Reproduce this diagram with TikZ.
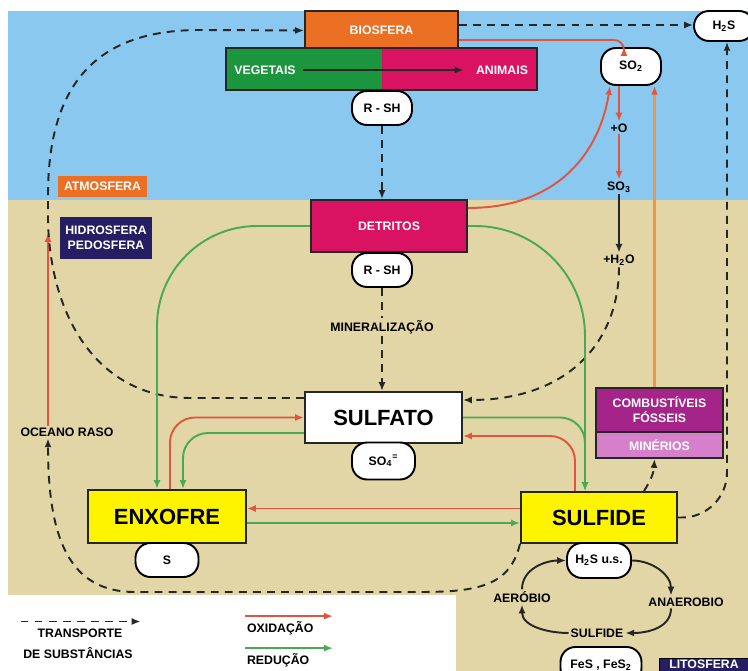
\documentclass[tikz,border=0pt]{standalone}
\usepackage{fontspec}
\setmainfont{Liberation Sans}
\usetikzlibrary{arrows.meta}

\definecolor{sky}{RGB}{138,200,240}
\definecolor{soil}{RGB}{226,214,166}
\definecolor{bioorange}{RGB}{236,112,36}
\definecolor{leafgreen}{RGB}{28,150,62}
\definecolor{rosered}{RGB}{218,18,98}
\definecolor{navy}{RGB}{38,30,98}
\definecolor{boxyellow}{RGB}{255,244,0}
\definecolor{fossil}{RGB}{164,36,138}
\definecolor{orepink}{RGB}{214,128,204}
\definecolor{oxred}{RGB}{226,84,62}
\definecolor{redgreen}{RGB}{72,170,82}
\definecolor{fuelorange}{RGB}{236,150,80}

\begin{document}
\begin{tikzpicture}[x=0.2mm,y=-0.2mm,
  box/.style={draw=black!85,line width=1.2pt,font=\fontsize{12.5}{14}\selectfont\bfseries},
  sbox/.style={draw=black!85,line width=1.2pt,text=white,inner sep=1pt,font=\fontsize{7}{8.5}\selectfont\bfseries},
  tag/.style={text=white,inner sep=1pt,font=\fontsize{7}{8.5}\selectfont\bfseries},
  pill/.style={draw,fill=white,line width=1.1pt,rounded corners=0.3cm,minimum width=1.2cm,minimum height=0.68cm,inner sep=1pt,font=\fontsize{7}{8}\selectfont\bfseries},
  lab/.style={inner sep=1pt,font=\fontsize{7}{8}\selectfont\bfseries},
  transp/.style={black!85,line width=1.1pt,dash pattern=on 4.5pt off 3.5pt,-{Latex[length=5pt,width=4pt]}},
  oxid/.style={oxred,line width=1.1pt,-{Latex[length=5pt,width=4pt]}},
  reduc/.style={redgreen,line width=1.1pt,-{Latex[length=5pt,width=4pt]}},
  fuel/.style={fuelorange,line width=1.3pt,-{Latex[length=5pt,width=4pt,color=oxred]}},
  cyc/.style={black!85,line width=1.1pt,-{Latex[length=5pt,width=4pt]}}]

\fill [white] (0,0) rectangle (748,671);
\fill [sky] (8,11) rectangle (748,200);
\fill [soil] (8,200) rectangle (748,671);
\fill [white] (8,595) rectangle (456,671);
\useasboundingbox (0,0) rectangle (748,671);

\node [sbox,fill=bioorange,minimum width=3.06cm,minimum height=0.78cm] (biosfera) at (381.5,30.5) {BIOSFERA};
\node [fill=leafgreen,minimum width=3.12cm,minimum height=0.84cm,inner sep=0pt] (vegbar) at (304,69) {};
\node [fill=rosered,minimum width=3.1cm,minimum height=0.84cm,inner sep=0pt] (anibar) at (459.5,69) {};
\draw [black!85,line width=1.2pt] (vegbar.north west) rectangle (anibar.south east);
\node [tag] (veg) at (265,70) {VEGETAIS};
\node [tag] (ani) at (502,70) {ANIMAIS};
\draw [black!85,line width=1.2pt,-{Latex[length=5pt,width=4pt]},shorten <=3pt,shorten >=6pt] (veg) -- (ani);

\node [pill] (rsh1) at (382,108) {R - SH};
\node [sbox,fill=rosered,minimum width=3.12cm,minimum height=1.04cm] (detritos) at (389,226) {DETRITOS};
\node [pill] (rsh2) at (382,270) {R - SH};
\node [lab] (mineral) at (382,327) {MINERALIZAÇÃO};
\node [box,fill=white,minimum width=3.14cm,minimum height=1.02cm] (sulfato) at (383.5,417.5) {SULFATO};
\node [pill,minimum width=1.26cm,minimum height=0.74cm] (so4) at (383.5,461) {SO\textsubscript{4}\textsuperscript{=}};

\node [box,fill=boxyellow,minimum width=3.16cm,minimum height=1.06cm] (enxofre) at (167,516.5) {ENXOFRE};
\node [pill,minimum width=1.26cm] (s) at (167,560) {S};
\node [box,fill=boxyellow,minimum width=3.12cm,minimum height=1.02cm] (sulfide) at (599,517.5) {SULFIDE};
\node [pill,minimum width=1.28cm,minimum height=0.7cm] (h2sus) at (599,560.5) {H\textsubscript{2}S u.s.};
\node [lab] (aer) at (522,597) {AERÓBIO};
\node [lab] (anae) at (686,602) {ANAEROBIO};
\node [lab] (sulf2) at (597,633) {SULFIDE};
\node [pill,minimum width=1.62cm,minimum height=0.72cm] (fes) at (601,665) {FeS , FeS\textsubscript{2}};
\node [fill=navy,draw=black,minimum width=1.8cm,minimum height=0.4cm] (litbox) at (704,668) {};
\node [tag] (litos) at (704,664) {LITOSFERA};

\node [pill,minimum width=1.2cm,minimum height=0.74cm] (so2) at (631,66.5) {SO\textsubscript{2}};
\node [pill,minimum width=1.2cm,minimum height=0.6cm] (h2s) at (724,26) {H\textsubscript{2}S};
\node [lab] (oplus) at (619,128) {+O};
\node [lab] (so3) at (619,187) {SO\textsubscript{3}};
\node [lab] (h2o) at (619,260) {+H\textsubscript{2}O};
\node [sbox,fill=fossil,align=center,minimum width=2.54cm,minimum height=0.88cm] (comb) at (659.5,410) {COMBUSTÍVEIS\\FÓSSEIS};
\node [sbox,fill=orepink,minimum width=2.54cm,minimum height=0.52cm] (minerios) at (659.5,445) {MINÉRIOS};

\node [tag,fill=bioorange,minimum width=1.78cm,minimum height=0.42cm] (atmos) at (102.5,186.5) {ATMOSFERA};
\node [tag,fill=navy,align=center,minimum width=1.84cm,minimum height=0.84cm] (hidro) at (106,238) {HIDROSFERA\\PEDOSFERA};
\node [lab] (oceano) at (67,432) {OCEANO RASO};
\coordinate (shelf) at (48,233);

\node [lab] (transp1) at (80,633) {TRANSPORTE};
\node [lab] (transp2) at (78,653) {DE SUBSTÂNCIAS};
\node [lab,anchor=west] (oxlab) at (245,628) {OXIDAÇÃO};
\node [lab,anchor=west] (redlab) at (245,660) {REDUÇÃO};

\draw [transp] (rsh1.south) -- (rsh1.south |- detritos.north);
\draw [transp,-] (rsh2.south) -- (mineral.north);
\draw [transp] (mineral.south) -- (mineral.south |- sulfato.north);
\draw [transp] ([yshift=0.11cm]biosfera.east) -- ([yshift=0.11cm]biosfera.east -| h2s.west);
\draw [oxid,rounded corners=0.2cm] ([yshift=-0.19cm]biosfera.east) -| ([xshift=-0.14cm]so2.north);
\draw [oxid] ([yshift=0.36cm]detritos.east) .. controls (560,208) and (600,150) .. ([xshift=0.2cm]so2.south west);
\draw [oxid] (so2.south -| oplus) -- (oplus);
\draw [oxid] (oplus) -- (so3);
\draw [cyc] (so3) -- (h2o);
\draw [transp] (h2o.south) .. controls (619,340) and (570,400) .. ([yshift=0.35cm]sulfato.east);
\draw [fuel] ([xshift=-0.1cm]comb.north) -- ([xshift=-0.1cm]comb.north |- so2.south);
\draw [transp] ([xshift=0.9cm]sulfide.north) to [bend right=15] ([xshift=-0.1cm]minerios.south);
\draw [transp,rounded corners=0.9cm] (sulfide.east) -| ([xshift=0.06cm]h2s.south);
\draw [transp] (sulfide.south west) .. controls (510,585) and (480,592) .. (420,592) -- (135,592) .. controls (70,592) and (48,540) .. (oceano.south -| shelf);
\draw [oxid] (oceano.north -| shelf) -- (shelf);
\draw [transp] ([yshift=0.39cm]sulfato.west) -- (190,398) .. controls (100,398) and (50,320) .. (48,220) -- (48,195) .. controls (48,70) and (110,30) .. (200,30) -- (biosfera.west);

\draw [reduc,rounded corners=2cm] (detritos.west) -| ([xshift=-0.2cm]enxofre.north);
\draw [reduc,rounded corners=2.2cm] (detritos.east) -| ([xshift=-0.28cm]sulfide.north);
\draw [oxid,rounded corners=0.5cm] ([xshift=0.06cm]enxofre.north) |- (sulfato.west);
\draw [reduc,rounded corners=0.5cm] ([yshift=-0.31cm]sulfato.west) -| ([xshift=0.32cm]enxofre.north);
\draw [reduc,rounded corners=0.5cm] (sulfato.east) -| ([xshift=-0.28cm]sulfide.north);
\draw [oxid,rounded corners=0.5cm] ([xshift=-0.48cm]sulfide.north) |- ([yshift=-0.37cm]sulfato.east);
\draw [oxid] ([yshift=0.18cm]sulfide.west) -- ([yshift=0.18cm]sulfide.west -| enxofre.east);
\draw [reduc] ([yshift=-0.13cm]enxofre.east) -- ([yshift=-0.13cm]enxofre.east -| sulfide.west);

\draw [cyc] (aer.north) to [out=90,in=180] (h2sus.west);
\draw [cyc] (h2sus.east) to [out=0,in=90] ([xshift=-0.3cm]anae.north);
\draw [cyc] ([xshift=-0.3cm]anae.south) to [out=-90,in=0] (sulf2.east);
\draw [cyc] (sulf2.west) to [out=180,in=-90] (aer.south);

\draw [transp] ([xshift=-0.3cm,yshift=0.1cm]transp1.north west) -- ++(120,0);
\draw [oxid] ([yshift=0.06cm]oxlab.north west) -- ++(88,0);
\draw [reduc] ([yshift=0.06cm]redlab.north west) -- ++(88,0);

\end{tikzpicture}
\end{document}
